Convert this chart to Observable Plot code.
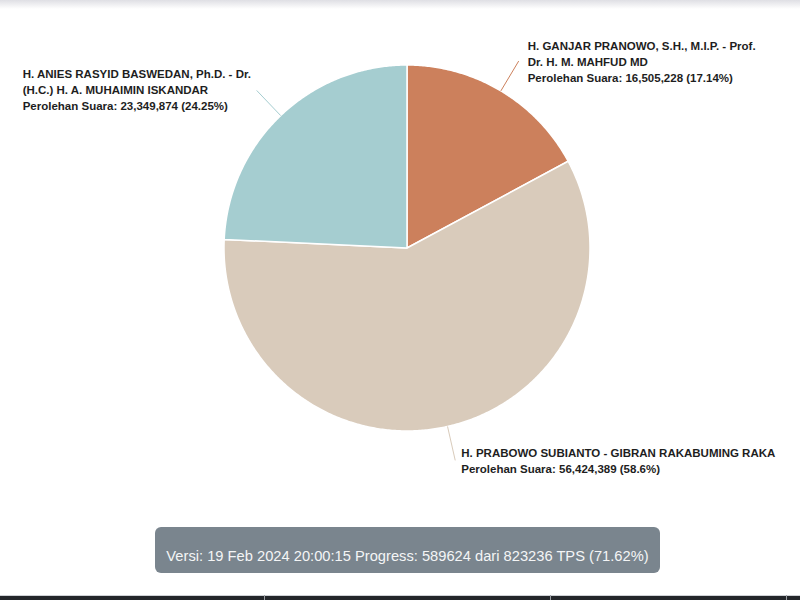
<!DOCTYPE html>
<html>
<head>
<meta charset="utf-8">
<script src="https://cdn.jsdelivr.net/npm/d3@7"></script>
<script src="https://cdn.jsdelivr.net/npm/@observablehq/plot@0.6"></script>
<style>
  html, body { margin: 0; padding: 0; background: #fff; }
  body { width: 800px; height: 600px; position: relative; overflow: hidden; font-family: "Liberation Sans", Arial, Helvetica, sans-serif; }
  #shadow { position: absolute; left: 0; top: 0; width: 800px; height: 9px; background: linear-gradient(#dfdfe4, rgba(255,255,255,0)); }
  #chart { position: absolute; left: 0; top: 0; }
  #badge { position: absolute; left: 155px; top: 527px; width: 505px; height: 46px; box-sizing: border-box; padding-top: 11px; line-height: 36px;
           background: #7a858e; border-radius: 6px; color: #f4f5f6; font-size: 14.7px; text-align: center; white-space: nowrap; }
  #bottombar { position: absolute; left: 0; top: 595px; width: 800px; height: 5px; background: #23262a; border-top: 1px solid #cfd2d6; }
  .div { position: absolute; top: 595px; width: 1px; height: 6px; background: #9a9ea3; }
</style>
</head>
<body>
<div id="shadow"></div>
<div id="chart"></div>
<div id="badge"></div>
<div id="bottombar"></div>
<div class="div" style="left:264px"></div>
<div class="div" style="left:550px"></div>
<div class="div" style="left:786px"></div>
<script>
// ---- data ----
const candidates = [
  "H. GANJAR PRANOWO, S.H., M.I.P. - Prof.\nDr. H. M. MAHFUD MD",
  "H. PRABOWO SUBIANTO - GIBRAN RAKABUMING RAKA",
  "H. ANIES RASYID BASWEDAN, Ph.D. - Dr.\n(H.C.) H. A. MUHAIMIN ISKANDAR"
];
const votes = [16505228, 56424389, 23349874];
const percents = ["17.14%", "58.6%", "24.25%"];
const colors = ["#cc805c", "#d9cbbb", "#a5cdd0"];
const versionText = "Versi: 19 Feb 2024 20:00:15 Progress: 589624 dari 823236 TPS (71.62%)";

// ---- layout (not data) ----
const labelDx = [9, 6, -234];   // horizontal offset of each label block from its leader end
const labelDy = [0, 0, -1.5];
const leaderR = 1.19;           // leader length in radius units

const fmt = d3.format(",");
const arcs = d3.pie().sort(null).value(d => d.votes)(
  candidates.map((name, i) => ({name, votes: votes[i], pct: percents[i], i}))
);

// slice polygons computed from pie angles (clockwise from top)
const polyPts = [];
for (const a of arcs) {
  const n = Math.max(2, Math.ceil((a.endAngle - a.startAngle) / (Math.PI / 360)));
  polyPts.push({name: a.data.name, x: 0, y: 0});
  for (let k = 0; k <= n; k++) {
    const t = a.startAngle + (a.endAngle - a.startAngle) * k / n;
    polyPts.push({name: a.data.name, x: Math.sin(t), y: Math.cos(t)});
  }
  polyPts.push({name: a.data.name, x: 0, y: 0});
}

const leaders = arcs.map(a => {
  const m = (a.startAngle + a.endAngle) / 2;
  return {
    name: a.data.name,
    x1: Math.sin(m), y1: Math.cos(m),
    x2: leaderR * Math.sin(m), y2: leaderR * Math.cos(m),
    label: a.data.name + "\nPerolehan Suara: " + fmt(a.data.votes) + " (" + a.data.pct + ")",
    dx: labelDx[a.data.i], dy: labelDy[a.data.i]
  };
});

const chart = Plot.plot({
  width: 800,
  height: 520,
  margin: 0,
  style: {background: "transparent", fontFamily: "'Liberation Sans', Arial, Helvetica, sans-serif"},
  x: {domain: [-1, 1], range: [223.5, 589.5], axis: null},
  y: {domain: [-1, 1], range: [430.5, 64.5], axis: null},
  color: {domain: candidates, range: colors},
  marks: [
    Plot.line(polyPts, {x: "x", y: "y", z: "name", fill: "name", stroke: "#fff", strokeWidth: 1.5, strokeLinejoin: "round", curve: "linear"}),
    Plot.link(leaders, {x1: "x1", y1: "y1", x2: "x2", y2: "y2", stroke: "name", strokeWidth: 1}),
    ...leaders.map(d => Plot.text([d], {
      x: "x2", y: "y2", text: "label", dx: d.dx, dy: d.dy,
      textAnchor: "start", lineAnchor: "middle", lineHeight: 1.39,
      fontSize: 11.5, fontWeight: "bold", fill: "#1e1e1e"
    }))
  ]
});
document.getElementById("chart").appendChild(chart);
document.getElementById("badge").textContent = versionText;
</script>
</body>
</html>
